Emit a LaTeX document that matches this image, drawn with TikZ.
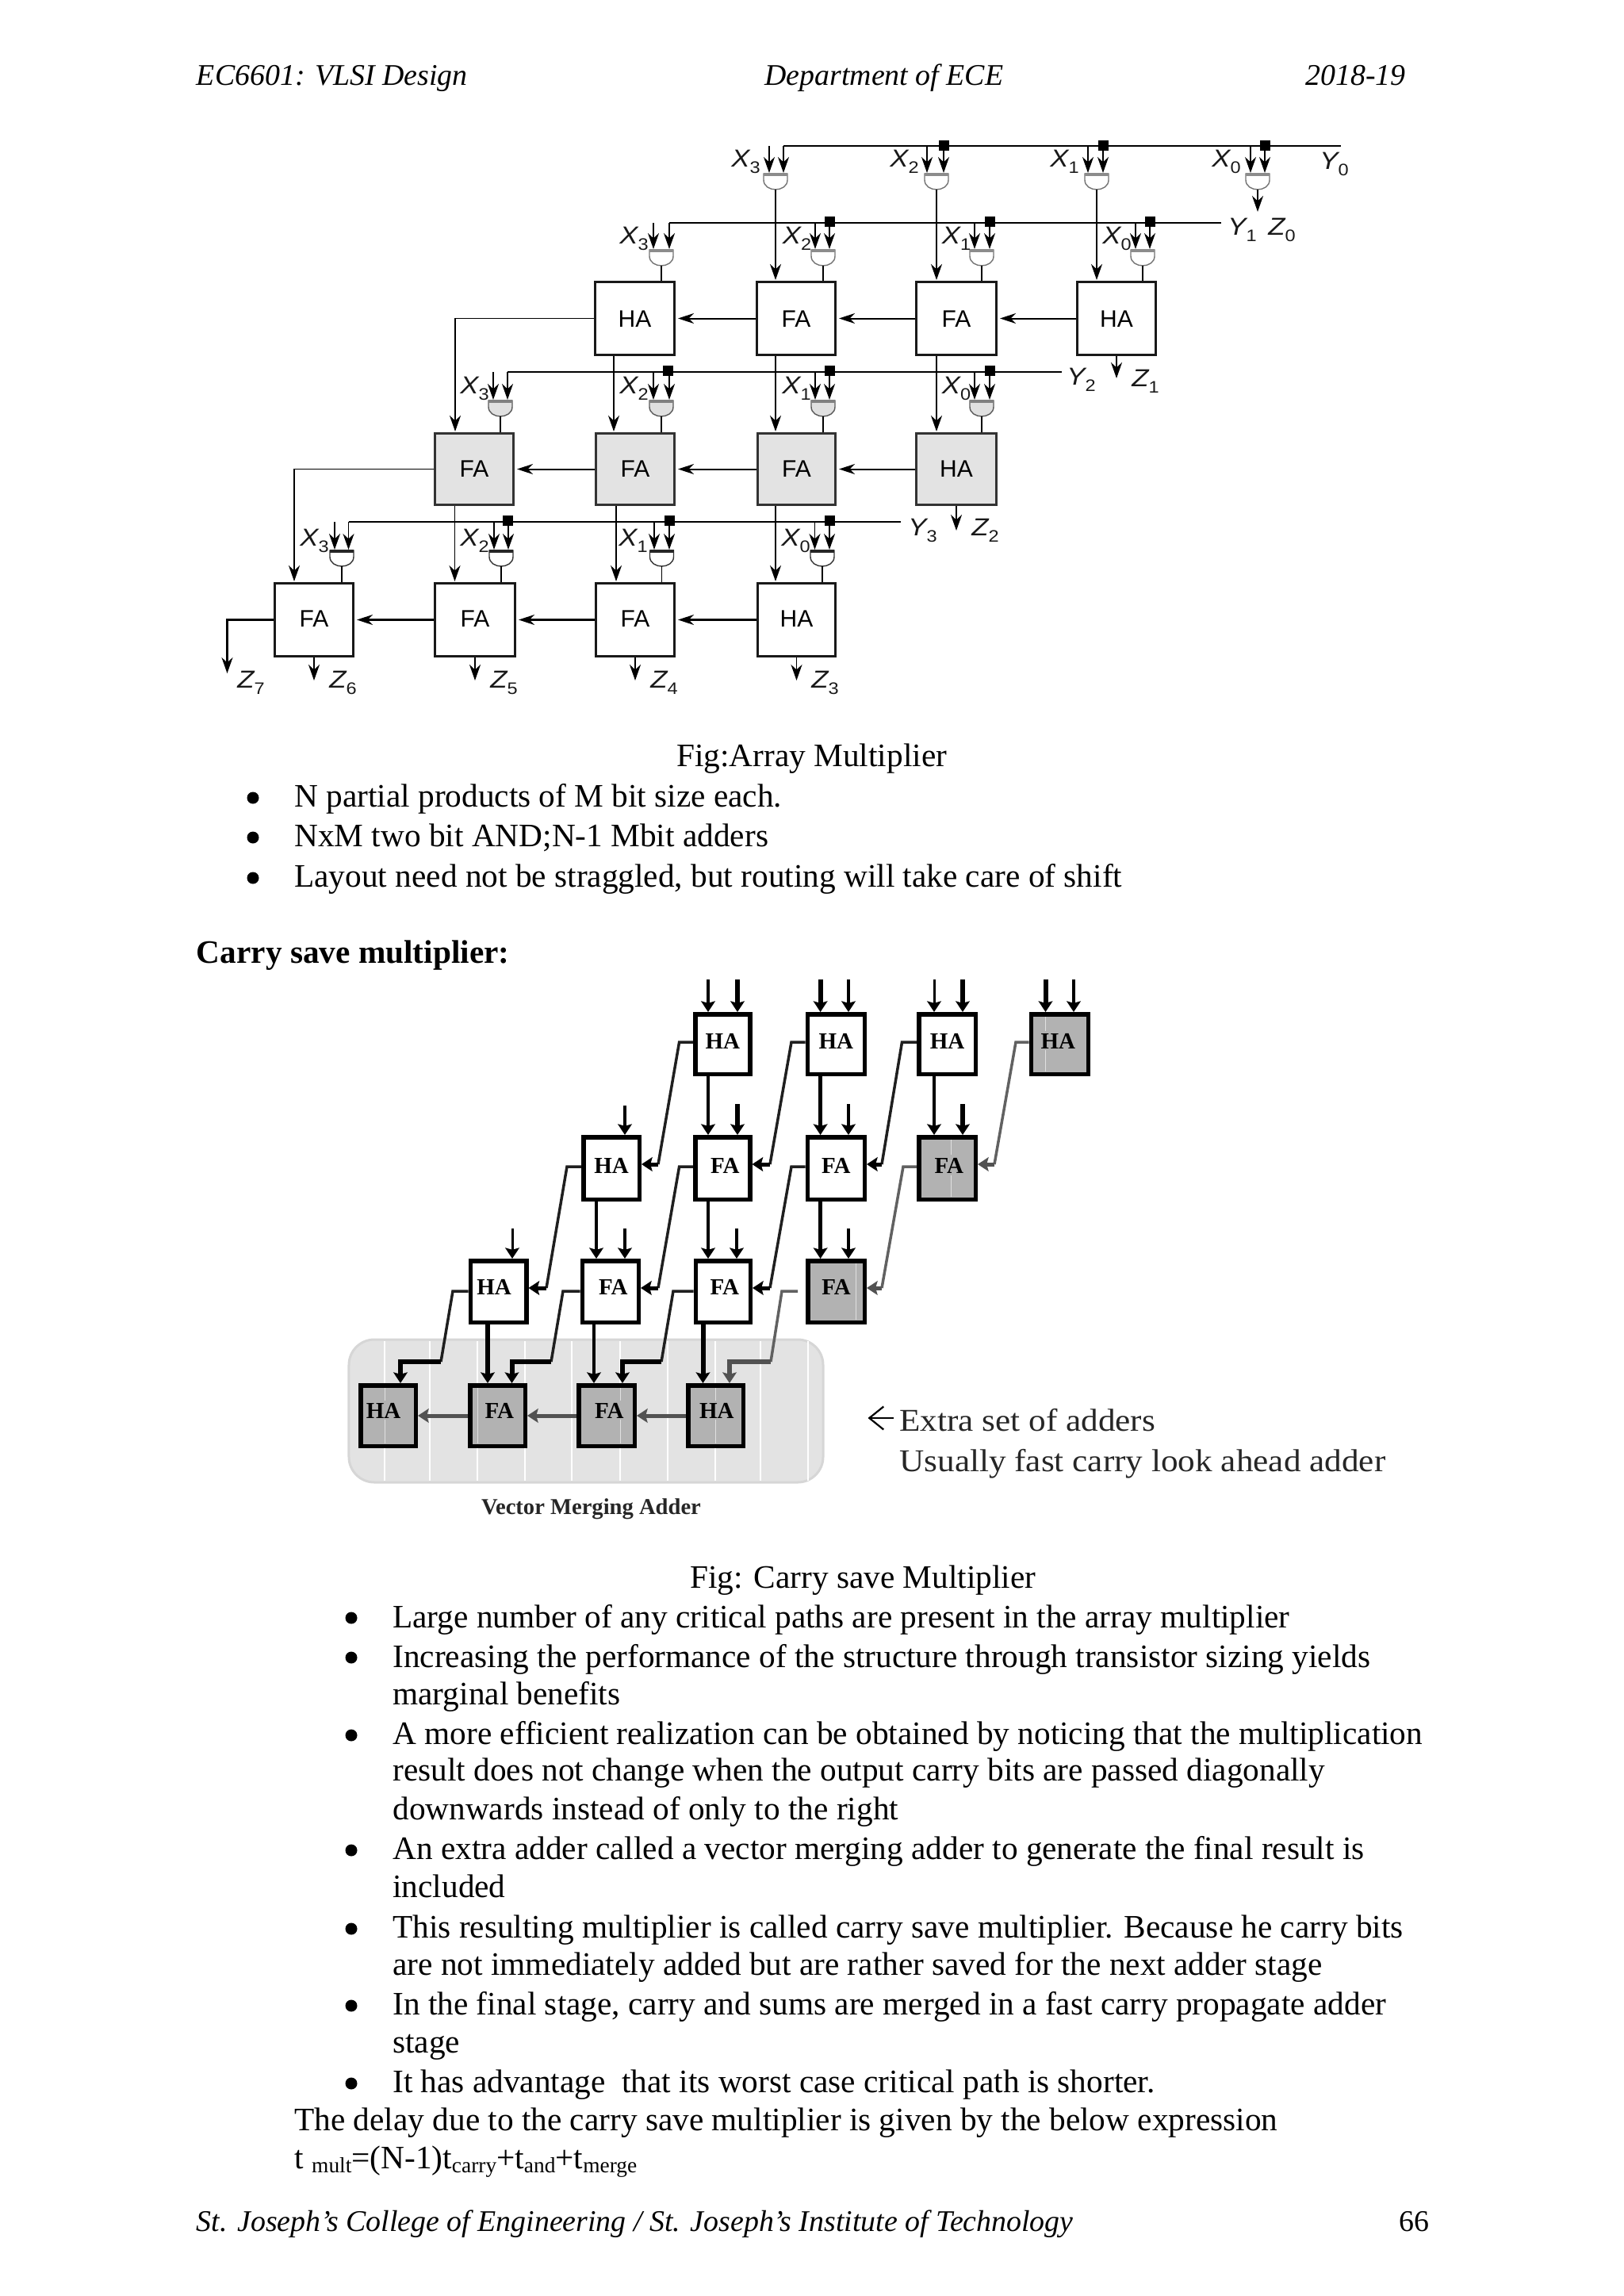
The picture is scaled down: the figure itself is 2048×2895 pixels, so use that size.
\documentclass[tikz,border=0pt]{standalone}
\usepackage{fontspec}
\setmainfont{Liberation Serif}
\newfontfamily\arialf{Liberation Sans}
\newfontfamily\lblf[FakeStretch=1.12]{Liberation Sans}
\newfontfamily\stretchf[FakeStretch=1.08]{Liberation Serif}
\usetikzlibrary{arrows.meta,calc}
\newcommand\bodyf{\fontsize{20.65bp}{24bp}\selectfont}
\newcommand\smallit{\fontsize{18.93bp}{22bp}\selectfont}
\newcommand\lowtxt[1]{\raisebox{-2.6bp}{\fontsize{13.7bp}{15bp}\selectfont #1}}
\newcommand\tl[4]{\node[txt] (#1) at (#2,#3) {#4};}
\newcommand\bul[3]{\node[bulletdot] (#1) at (#2,#3) {};}
\newcommand\lab[5]{\node[labn] (#1) at (#2,#3) {\lblf\itshape #4\raisebox{-4bp}{\fontsize{10.5bp}{11bp}\selectfont\upshape #5}};}
\newcommand\bx[8]{\node[#6,minimum width={(#4-#2-#7)*0.5bp},minimum height={(#5-#3-#7)*0.5bp},line width={#7*0.5bp}] (#1) at ({(#2+#4)/2},{(#3+#5)/2}) {#8};}
\newcommand\aab[2][-5.5bp]{{\arialf\fontsize{15bp}{15bp}\selectfont\raisebox{#1}[0pt][0pt]{#2}}}
\newcommand\cab[3]{{\bfseries\fontsize{14.5bp}{14bp}\selectfont\raisebox{#2bp}[0pt][0pt]{\makebox[0pt][c]{\kern#1bp #3\kern-#1bp}}}}
% gate with its two input arrows: name, cx, cy, left x, right x, input line
\newcommand\gateio[6]{%
 \node[gatebox] (#1) at (#2,#3) {};
 \draw[gateline,draw=gedge,fill=gfill] (#2-15,#3-10) -- (#2+15,#3-10) -- (#2+15,#3-2) .. controls (#2+15,#3+6) and (#2+7,#3+10) .. (#2,#3+10) .. controls (#2-7,#3+10) and (#2-15,#3+6) .. (#2-15,#3-2) -- cycle;
 \draw[line width=1.7bp,gtop] (#2-15,#3-9) -- (#2+15,#3-9);
 \draw[arr] (#6 -| #4,0) -- (#1.north -| #4,0);
 \draw[arr] (#6 -| #5,0) -- (#1.north -| #5,0);
}
\newcommand\stripe[5]{\draw[stripeln] (#1,#2) -- (#1,#3) (#1,#4) -- (#1,#5);}
\tikzset{
 x=0.5bp,y=-0.5bp,
 txt/.style={anchor=base west,inner sep=0,font=\bodyf},
 bulletdot/.style={circle,fill=black,minimum size=7.5bp,inner sep=0},
 labn/.style={anchor=base west,inner sep=0,font=\fontsize{15.5bp}{16bp}\selectfont,text=black!90},
 arr/.style={-{Stealth[length=10bp,width=7bp,inset=3.2bp]},line width=.9bp,shorten >=.5bp},
 harr/.style={-{Stealth[length=10bp,width=6.5bp,inset=3.2bp]},line width=1bp,shorten >=1.5bp},
 plain/.style={line width=.9bp},
 yline/.style={line width=1.3bp},
 abox/.style={draw=black!90,fill=white,inner sep=0},
 gbox/.style={draw=black!80,fill=black!11,inner sep=0},
 gatebox/.style={minimum width=15.5bp,minimum height=10bp,inner sep=0,outer sep=0},
 gateline/.style={line width=.7bp},
 sq/.style={fill=black,minimum width=6.5bp,minimum height=6.5bp,inner sep=0},
 cbox/.style={draw=black,fill=white,inner sep=0},
 cgray/.style={draw=black,fill=black!30,inner sep=0},
 csa/.style={-{Stealth[length=6.8bp,width=8.8bp,inset=1.2bp]},line width=#1*0.5bp},
 csal/.style={line width=#1*0.5bp,draw=black!88},
 csag/.style={-{Stealth[length=6.8bp,width=8.8bp,inset=1.2bp]},line width=#1*0.5bp,draw=black!68},
 csagl/.style={line width=#1*0.5bp,draw=black!62},
 stripeln/.style={line width=.5bp,draw=black!12},
}
\begin{document}
\begin{tikzpicture}
\useasboundingbox (0,0) rectangle (2048,2895);
% ---- page text
\tl{h1}{247.5}{108}{\smallit\itshape EC6601: VLSI Design}
\tl{h2}{964}{108}{\smallit\itshape Department of ECE}
\tl{h3}{1646}{108}{\smallit\itshape 2018-19}
\tl{c1}{853}{966}{Fig:Array Multiplier}
\bul{b1}{319}{1006}\tl{t1}{371}{1017}{N partial products of M bit size each.}
\bul{b2}{319}{1056}\tl{t2}{371}{1067}{NxM two bit AND;N-1 Mbit adders}
\bul{b3}{319}{1107}\tl{t3}{371}{1118}{Layout need not be straggled, but routing will take care of shift}
\tl{t4}{247.5}{1214}{\bfseries Carry save multiplier:}
\tl{c2}{870}{2002}{Fig: Carry save Multiplier}
\bul{b5}{443}{2040}\tl{t5}{495}{2052}{Large number of any critical paths are present in the array multiplier}
\bul{b6}{443}{2090}\tl{t6}{495}{2102}{Increasing the performance of the structure through transistor sizing yields}
\tl{t7}{495}{2149}{marginal benefits}
\bul{b8}{443}{2188}\tl{t8}{495}{2199}{A more efficient realization can be obtained by noticing that the multiplication}
\tl{t9}{495}{2245}{result does not change when the output carry bits are passed diagonally}
\tl{t10}{495}{2294}{downwards instead of only to the right}
\bul{b11}{443}{2333}\tl{t11}{495}{2344}{An extra adder called a vector merging adder to generate the final result is}
\tl{t12}{495}{2392}{included}
\bul{b13}{443}{2432}\tl{t13}{495}{2443}{This resulting multiplier is called carry save multiplier. Because he carry bits}
\tl{t14}{495}{2490}{are not immediately added but are rather saved for the next adder stage}
\bul{b15}{443}{2529}\tl{t15}{495}{2540}{In the final stage, carry and sums are merged in a fast carry propagate adder}
\tl{t16}{495}{2588}{stage}
\bul{b17}{443}{2627}\tl{t17}{495}{2638}{It has advantage\ \ that its worst case critical path is shorter.}
\tl{t18}{371}{2686}{The delay due to the carry save multiplier is given by the below expression}
\tl{t19}{371}{2734}{t \lowtxt{mult}=(N-1)t\lowtxt{carry}+t\lowtxt{and}+t\lowtxt{merge}}
\tl{f1}{247.5}{2813}{\smallit\itshape St. Joseph’s College of Engineering / St. Joseph’s Institute of Technology}
\tl{f2}{1764}{2813}{\smallit 66}
% ---- array multiplier: boxes
\bx{a1}{749}{354}{852}{449}{abox}{3}{\aab{HA}}
\bx{a2}{953}{354}{1055}{449}{abox}{3}{\aab{FA}}
\bx{a3}{1154}{354}{1258}{449}{abox}{3}{\aab{FA}}
\bx{a4}{1357}{354}{1459}{449}{abox}{3}{\aab{HA}}
\bx{b1x}{547}{545}{649}{638}{gbox}{3}{\aab[-5bp]{FA}}
\bx{b2x}{750}{545}{852}{638}{gbox}{3}{\aab[-5bp]{FA}}
\bx{b3x}{954}{545}{1055}{638}{gbox}{3}{\aab[-5bp]{FA}}
\bx{b4x}{1154}{545}{1258}{638}{gbox}{3}{\aab[-5bp]{HA}}
\bx{c1x}{345}{734}{447}{829}{abox}{3}{\aab[-4.25bp]{FA}}
\bx{c2x}{547}{734}{651}{829}{abox}{3}{\aab[-4.25bp]{FA}}
\bx{c3x}{750}{734}{852}{829}{abox}{3}{\aab[-4.25bp]{FA}}
\bx{c4x}{954}{734}{1055}{829}{abox}{3}{\aab[-4.25bp]{HA}}
% horizontal carries
\draw[harr] (a4.west) -- (a3.east);
\draw[harr] (a3.west) -- (a2.east);
\draw[harr] (a2.west) -- (a1.east);
\draw[harr] (b4x.west) -- (b3x.east);
\draw[harr] (b3x.west) -- (b2x.east);
\draw[harr] (b2x.west) -- (b1x.east);
\draw[harr,line width=1.15bp] (c4x.west) -- (c3x.east);
\draw[harr,line width=1.15bp] (c3x.west) -- (c2x.east);
\draw[harr,line width=1.15bp] (c2x.west) -- (c1x.east);
% Y lines
\coordinate (y0L) at (988,184); \coordinate (y0R) at (1691,184);
\coordinate (y1L) at (844,281); \coordinate (y1R) at (1540,281);
\coordinate (y2L) at (640,469); \coordinate (y2R) at (1339,469);
\coordinate (y3L) at (439.5,658); \coordinate (y3R) at (1136,658);
\draw[yline] (y0L) -- (y0R);
\draw[yline] (y1L) -- (y1R);
\draw[yline] (y2L) -- (y2R);
\draw[yline] (y3L) -- (y3R);
% squares
\node[sq] (s02) at (1190,183.5) {};\node[sq] (s01) at (1391,183.5) {};\node[sq] (s00) at (1595,183.5) {};
\node[sq] (s12) at (1046,279.5) {};\node[sq] (s11) at (1248,279.5) {};\node[sq] (s10) at (1450,279.5) {};
\node[sq] (s22) at (842,467.5) {};\node[sq] (s21) at (1046,467.5) {};\node[sq] (s20) at (1248,467.5) {};
\node[sq] (s32) at (640,656.5) {};\node[sq] (s31) at (844,656.5) {};\node[sq] (s30) at (1046,656.5) {};
% gates
\colorlet{gfill}{white}\colorlet{gedge}{black!55}\colorlet{gtop}{black!45}
\gateio{g03}{978}{229}{970}{988}{y0L}
\gateio{g02}{1181}{229}{1169}{1190}{y0L}
\gateio{g01}{1383}{229}{1372}{1391}{y0L}
\gateio{g00}{1586}{229}{1577}{1595}{y0L}
\gateio{g13}{834}{325}{824}{844}{y1L}
\gateio{g12}{1038}{325}{1028}{1046}{y1L}
\gateio{g11}{1238}{325}{1229}{1248}{y1L}
\gateio{g10}{1441}{325}{1432}{1450}{y1L}
\colorlet{gfill}{black!12}\colorlet{gedge}{black!65}\colorlet{gtop}{black!50}
\gateio{g23}{631}{515}{622}{640}{y2L}
\gateio{g22}{834}{515}{824}{844}{y2L}
\gateio{g21}{1038}{515}{1028}{1046}{y2L}
\gateio{g20}{1238}{515}{1229}{1248}{y2L}
\colorlet{gfill}{white}\colorlet{gedge}{black!80}\colorlet{gtop}{black!85}
\gateio{g33}{431}{704}{422}{439.5}{y3L}
\gateio{g32}{632}{704}{623}{641}{y3L}
\gateio{g31}{834.5}{704}{825}{844}{y3L}
\gateio{g30}{1037}{704}{1027.5}{1046}{y3L}
% gate outputs
\draw[arr] (g03.south) -- (a2.north -| g03.south);
\draw[arr] (g02.south) -- (a3.north -| g02.south);
\draw[arr] (g01.south) -- (a4.north -| g01.south);
\draw[arr] (g00.south) -- ++(0,29) coordinate (z0e);
\draw[plain] (g13.south) -- (a1.north -| g13.south);
\draw[plain] (g12.south) -- (a2.north -| g12.south);
\draw[plain] (g11.south) -- (a3.north -| g11.south);
\draw[plain] (g10.south) -- (a4.north -| g10.south);
\draw[plain] (g23.south) -- (b1x.north -| g23.south);
\draw[plain] (g22.south) -- (b2x.north -| g22.south);
\draw[plain] (g21.south) -- (b3x.north -| g21.south);
\draw[plain] (g20.south) -- (b4x.north -| g20.south);
\draw[plain] (g33.south) -- (c1x.north -| g33.south);
\draw[plain] (g32.south) -- (c2x.north -| g32.south);
\draw[plain] (g31.south) -- (c3x.north -| g31.south);
\draw[plain] (g30.south) -- (c4x.north -| g30.south);
% sums downwards
\draw[arr] (a1.south -| 774,0) -- (b2x.north -| 774,0);
\draw[arr] (a2.south -| 978,0) -- (b3x.north -| 978,0);
\draw[arr] (a3.south -| 1181,0) -- (b4x.north -| 1181,0);
\draw[arr] (a4.south) -- ++(0,29) coordinate (z1e);
\draw[arr] (a1.west) -| (b1x.north -| 574,0);
\draw[arr] (b1x.south -| 573.5,0) -- (c2x.north -| 573.5,0);
\draw[arr] (b2x.south -| 777,0) -- (c3x.north -| 777,0);
\draw[arr] (b3x.south -| 978,0) -- (c4x.north -| 978,0);
\draw[arr] (b4x.south) -- ++(0,32) coordinate (z2e);
\draw[arr] (b1x.west) -| (c1x.north -| 371,0);
\draw[arr,line width=1.1bp] (c1x.west) -| (286.5,850) coordinate (z7e);
\draw[arr] (c1x.south) -- ++(0,30) coordinate (z6e);
\draw[arr] (c2x.south) -- ++(0,30) coordinate (z5e);
\draw[arr] (c3x.south) -- ++(0,30) coordinate (z4e);
\draw[arr] (c4x.south) -- ++(0,30) coordinate (z3e);
% labels
\lab{l03}{922}{210}{X}{3}\lab{l02}{1122}{210}{X}{2}\lab{l01}{1324}{210}{X}{1}\lab{l00}{1528}{210}{X}{0}\lab{ly0}{1664}{213}{Y}{0}
\lab{l13}{781}{307}{X}{3}\lab{l12}{986.5}{307}{X}{2}\lab{l11}{1187.5}{307}{X}{1}\lab{l10}{1390}{307}{X}{0}\lab{ly1}{1548}{296}{Y}{1}\lab{lz0}{1599}{296}{Z}{0}
\lab{l23}{580}{496}{X}{3}\lab{l22}{781}{496}{X}{2}\lab{l21}{986}{496}{X}{1}\lab{l20}{1187.5}{496}{X}{0}\lab{ly2}{1345}{485}{Y}{2}\lab{lz1}{1427}{487}{Z}{1}
\lab{l33}{378}{688}{X}{3}\lab{l32}{580}{688}{X}{2}\lab{l31}{780}{688}{X}{1}\lab{l30}{985}{688}{X}{0}\lab{ly3}{1145}{675}{Y}{3}\lab{lz2}{1225}{675}{Z}{2}
\lab{lz7}{299}{867}{Z}{7}\lab{lz6}{415}{867}{Z}{6}\lab{lz5}{618}{867}{Z}{5}\lab{lz4}{820}{867}{Z}{4}\lab{lz3}{1023}{867}{Z}{3}
% ---- carry save multiplier
\node[draw=black!16,fill=black!11,line width=1.5bp,rounded corners=16bp,minimum width=299bp,minimum height=90bp,inner sep=0] (panel) at (739,1779) {};
\foreach \sx in {485,542,602,662,721,782,842,902,959,1019} {\draw[draw=white,line width=.6bp] (\sx,1691) -- (\sx,1867);}
\bx{d1}{874}{1276}{948.5}{1357}{cbox}{5.5}{\cab{0}{-2.75}{HA}}
\bx{d2}{1015.5}{1276}{1093}{1357}{cbox}{5.5}{\cab{0}{-2.75}{HA}}
\bx{d3}{1156}{1276}{1233}{1357}{cbox}{5.5}{\cab{0}{-2.75}{HA}}
\bx{d4}{1297.5}{1276}{1375}{1357}{cgray}{5.5}{\cab{-1}{-2.75}{HA}}
\bx{e1}{733}{1431}{809}{1515}{cbox}{5.5}{\cab{0}{-3}{HA}}
\bx{e2}{874}{1431}{948.5}{1515}{cbox}{5.5}{\cab{1.5}{-3}{FA}}
\bx{e3}{1015.5}{1431}{1093}{1515}{cbox}{5.5}{\cab{0}{-3}{FA}}
\bx{e4}{1156}{1431}{1233}{1515}{cgray}{5.5}{\cab{1.2}{-3}{FA}}
\bx{f1}{590.5}{1587}{666.5}{1670}{cbox}{5.5}{\cab{-2.75}{-2.2}{HA}}
\bx{f2}{731.6}{1587}{808}{1670}{cbox}{5.5}{\cab{1.75}{-2.2}{FA}}
\bx{f3}{874.5}{1587}{949}{1670}{cbox}{5.5}{\cab{1}{-2.2}{FA}}
\bx{f4}{1016}{1587}{1093}{1670}{cgray}{5.5}{\cab{0}{-2.2}{FA}}
\bx{h1}{452}{1744}{527}{1826}{cgray}{5.5}{\cab{-3}{-1.5}{HA}}
\bx{h2}{590}{1744}{665}{1826}{cgray}{5.5}{\cab{1.2}{-1.5}{FA}}
\bx{h3}{727}{1744}{803}{1826}{cgray}{5.5}{\cab{1.7}{-1.5}{FA}}
\bx{h4}{865}{1744}{940}{1826}{cgray}{5.5}{\cab{.7}{-1.5}{HA}}
\stripe{485}{1750}{1766}{1790}{1820}
\stripe{602}{1750}{1766}{1766}{1820}
\stripe{782}{1750}{1766}{1790}{1820}
\stripe{902}{1750}{1766}{1790}{1820}
\stripe{1079}{1593}{1610}{1610}{1664}
\stripe{1199}{1437}{1456}{1482}{1509}
\stripe{1318.5}{1282}{1300}{1324}{1351}
% top inputs
\draw[csa=4] (893,1235) coordinate (i1) -- (d1.north -| i1);
\draw[csa=5.4] (930,1235) coordinate (i2) -- (d1.north -| i2);
\draw[csa=6] (1034.6,1235) coordinate (i3) -- (d2.north -| i3);
\draw[csa=4.5] (1070,1235) coordinate (i4) -- (d2.north -| i4);
\draw[csa=3] (1178,1235) coordinate (i5) -- (d3.north -| i5);
\draw[csa=5.4] (1214,1235) coordinate (i6) -- (d3.north -| i6);
\draw[csa=6] (1318.5,1235) coordinate (i7) -- (d4.north -| i7);
\draw[csa=3.5] (1354,1235) coordinate (i8) -- (d4.north -| i8);
\draw[csa=4] (788,1394) coordinate (j1) -- (e1.north -| j1);
\draw[csa=5.4] (930,1392) coordinate (j2) -- (e2.north -| j2);
\draw[csa=4.5] (1070,1392) coordinate (j3) -- (e3.north -| j3);
\draw[csa=5.4] (1214,1392) coordinate (j4) -- (e4.north -| j4);
\draw[csa=3] (646,1549) coordinate (k1) -- (f1.north -| k1);
\draw[csa=4.5] (788,1549) coordinate (k2) -- (f2.north -| k2);
\draw[csa=3.5] (929,1549) coordinate (k3) -- (f3.north -| k3);
\draw[csa=4.5] (1070,1549) coordinate (k4) -- (f4.north -| k4);
% downward sums
\draw[csa=4] (d1.south -| 893,0) -- (e2.north -| 893,0);
\draw[csa=5.4] (d2.south -| 1034.6,0) -- (e3.north -| 1034.6,0);
\draw[csa=4] (d3.south -| 1178,0) -- (e4.north -| 1178,0);
\draw[csa=4.5] (e1.south -| 752,0) -- (f2.north -| 752,0);
\draw[csa=4] (e2.south -| 893,0) -- (f3.north -| 893,0);
\draw[csa=5.4] (e3.south -| 1034.6,0) -- (f4.north -| 1034.6,0);
\draw[csa=6] (f1.south -| 615,0) -- (h2.north -| 615,0);
\draw[csa=4] (f2.south -| 749,0) -- (h3.north -| 749,0);
\draw[csa=6] (f3.south -| 886.5,0) -- (h4.north -| 886.5,0);
% diagonal carries row 1 to 2
\draw[csal=3.5] (d1.west |- 0,1314) -- (856.6,1314) -- (830,1468);
\draw[csa=5] (830,1468) -- (e1.east |- 0,1468);
\draw[csal=3.5] (d2.west |- 0,1314) -- (998,1314) -- (971,1468);
\draw[csa=5] (971,1468) -- (e2.east |- 0,1468);
\draw[csal=3.5] (d3.west |- 0,1314) -- (1137.5,1314) -- (1112,1468);
\draw[csa=5] (1112,1468) -- (e3.east |- 0,1468);
\draw[csagl=3.5] (d4.west |- 0,1314) -- (1281,1314) -- (1254,1468);
\draw[csag=5] (1254,1468) -- (e4.east |- 0,1468);
% row 2 to 3
\draw[csal=3.5] (e1.west |- 0,1471) -- (715,1471) -- (689,1624);
\draw[csa=5] (689,1624) -- (f1.east |- 0,1624);
\draw[csal=3.5] (e2.west |- 0,1471) -- (856.6,1471) -- (830,1624);
\draw[csa=5] (830,1624) -- (f2.east |- 0,1624);
\draw[csal=3.5] (e3.west |- 0,1471) -- (998,1471) -- (971,1624);
\draw[csa=5] (971,1624) -- (f3.east |- 0,1624);
\draw[csagl=3.5] (e4.west |- 0,1471) -- (1139,1471) -- (1112,1624);
\draw[csag=5] (1112,1624) -- (f4.east |- 0,1624);
% row 3 to 4
\draw[csal=3.5] (f1.west |- 0,1628) -- (571,1628) -- (556,1717);
\draw[csa=6] (556,1717) -| (h1.north -| 505,0);
\draw[csal=3.5] (f2.west |- 0,1628) -- (710,1628) -- (695,1717);
\draw[csa=6] (695,1717) -| (h2.north -| 645.5,0);
\draw[csal=3.5] (f3.west |- 0,1628) -- (849,1628) -- (834,1717);
\draw[csa=6] (834,1717) -| (h3.north -| 785,0);
\draw[csagl=3.5] (1006,1628) coordinate (g4s) -- (986,1628) -- (972,1717);
\draw[csag=6] (972,1717) -| (h4.north -| 920,0);
% merge adder carries
\draw[csag=5] (h4.west) -- (h3.east);
\draw[csag=5] (h3.west) -- (h2.east);
\draw[csag=5] (h2.west) -- (h1.east);
% annotation
\node[anchor=base west,inner sep=0,font=\stretchf\fontsize{20bp}{22bp}\selectfont,text=black!85] (ex1) at (1134,1804) {Extra set of adders};
\node[anchor=base west,inner sep=0,font=\stretchf\fontsize{20bp}{22bp}\selectfont,text=black!85] (ex2) at (1134,1855) {Usually fast carry look ahead adder};
\coordinate (exs) at (1127,1788); \coordinate (exe) at (1094.5,1788);
\draw[-{Straight Barb[length=9bp,width=14.5bp]},line width=1.1bp] (exs) -- (exe);
\node[anchor=base west,inner sep=0,font=\bfseries\fontsize{14.3bp}{16bp}\selectfont,text=black!85] (vma) at (606.6,1909) {Vector Merging Adder};
\end{tikzpicture}
\end{document}
